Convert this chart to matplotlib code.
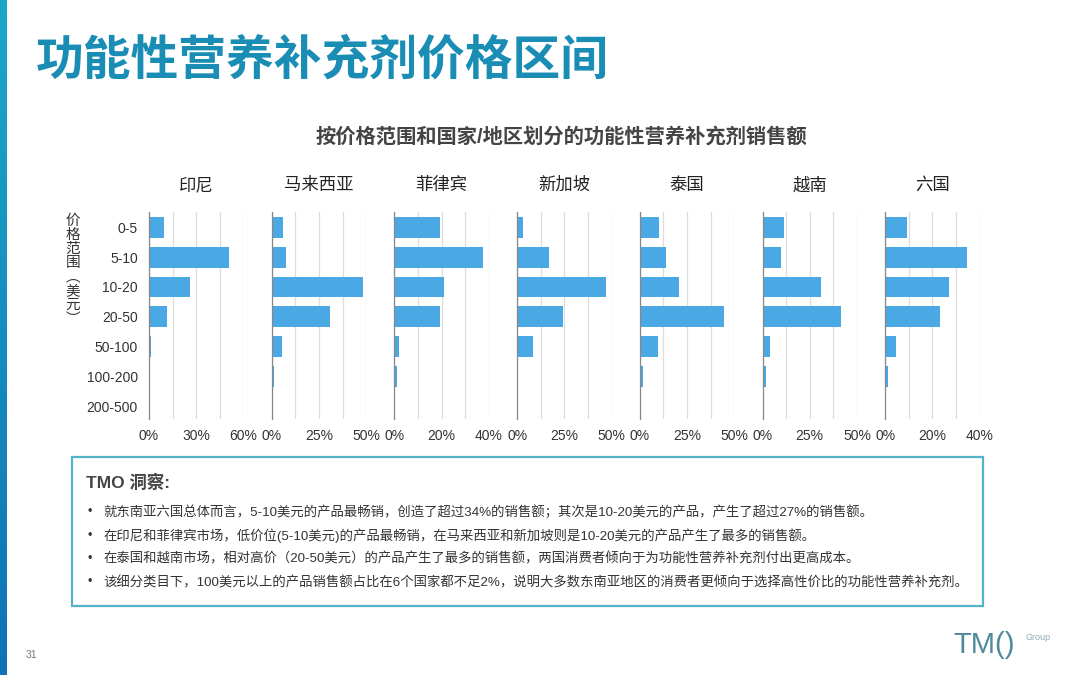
import matplotlib.pyplot as plt
import numpy as np
from matplotlib.patches import Rectangle

plt.rcParams['font.family'] = ['Liberation Sans', 'Noto Sans CJK SC', 'DejaVu Sans']

# data (share of sales, %)
price_ranges = ['0-5', '5-10', '10-20', '20-50', '50-100', '100-200', '200-500']
countries = ['印尼', '马来西亚', '菲律宾', '新加坡', '泰国', '越南', '六国']
indonesia = [9.3, 50.5, 26.2, 11.6, 1.0, 0.2, 0.0]
malaysia = [5.8, 7.4, 48.2, 31.0, 5.3, 1.0, 0.0]
philippines = [19.1, 37.4, 21.0, 19.4, 1.8, 1.0, 0.0]
singapore = [3.0, 17.1, 46.8, 24.3, 8.3, 0.2, 0.0]
thailand = [9.9, 13.6, 21.0, 44.5, 9.5, 1.6, 0.0]
vietnam = [11.6, 9.7, 31.0, 41.5, 4.0, 1.9, 0.0]
six_countries = [9.1, 34.6, 27.0, 23.0, 4.5, 1.1, 0.0]
series = [indonesia, malaysia, philippines, singapore, thailand, vietnam, six_countries]
axis_max = [60, 50, 40, 50, 50, 50, 40]

notes_title = 'TMO 洞察:'
notes = [
    '就东南亚六国总体而言，5-10美元的产品最畅销，创造了超过34%的销售额；其次是10-20美元的产品，产生了超过27%的销售额。',
    '在印尼和菲律宾市场，低价位(5-10美元)的产品最畅销，在马来西亚和新加坡则是10-20美元的产品产生了最多的销售额。',
    '在泰国和越南市场，相对高价（20-50美元）的产品产生了最多的销售额，两国消费者倾向于为功能性营养补充剂付出更高成本。',
    '该细分类目下，100美元以上的产品销售额占比在6个国家都不足2%，说明大多数东南亚地区的消费者更倾向于选择高性价比的功能性营养补充剂。',
]

W, H = 1080, 675
fig = plt.figure(figsize=(W / 100, H / 100), dpi=100)
fig.patch.set_facecolor('white')

def fx(px):
    return px / W

def fy(py):
    return 1 - py / H

# left accent strip
strip = fig.add_axes([0, 0, fx(7), 1])
strip.imshow(np.linspace(0, 1, 256).reshape(-1, 1), aspect='auto',
             cmap=plt.matplotlib.colors.LinearSegmentedColormap.from_list('s', ['#1ba7c8', '#0f72b6']))
strip.axis('off')

fig.text(fx(36), fy(62), '功能性营养补充剂价格区间', fontsize=34.4, fontweight='bold',
         color='#1a8db5', va='center', ha='left')
fig.text(fx(561), fy(137), '按价格范围和国家/地区划分的功能性营养补充剂销售额', fontsize=14.6,
         fontweight='bold', color='#444444', va='center', ha='center')

bar_color = '#4aa8e5'
y = np.arange(len(price_ranges))
left0, step, width = 149, 122.7, 94.5
top, bottom = 211.7, 419

for i, (name, vals, xmax) in enumerate(zip(countries, series, axis_max)):
    left = left0 + i * step
    ax = fig.add_axes([fx(left), fy(bottom), fx(width), fy(top) - fy(bottom)])
    ax.barh(y, vals, height=0.7, color=bar_color, zorder=3)
    ax.set_xlim(0, xmax)
    ax.set_ylim(6.42, -0.52)
    ax.set_xticks([0, xmax / 2, xmax])
    ax.set_xticklabels([f'{int(t)}%' for t in [0, xmax / 2, xmax]])
    ax.set_xticks([xmax / 4, 3 * xmax / 4], minor=True)
    ax.grid(axis='x', which='both', color='#dddddd', linewidth=0.9, zorder=0)
    ax.tick_params(axis='x', which='both', length=0, labelsize=10, colors='#333333', pad=7)
    for s in ['top', 'right', 'bottom']:
        ax.spines[s].set_visible(False)
    ax.spines['left'].set_color('#888888')
    ax.spines['left'].set_linewidth(0.9)
    ax.spines['left'].set_zorder(4)
    ax.set_yticks(y)
    if i == 0:
        ax.set_yticklabels(price_ranges)
        ax.tick_params(axis='y', length=0, labelsize=10, colors='#333333', pad=8)
    else:
        ax.set_yticklabels([])
        ax.tick_params(axis='y', length=0)
    ax.set_facecolor('none')
    fig.text(fx(left + width / 2), fy(185), name, fontsize=12.5, color='#222222',
             ha='center', va='center')

fig.text(fx(73), fy(270), '价\n格\n范\n围\n︵\n美\n元\n︶', fontsize=10.5, color='#333333',
         ha='center', va='center', linespacing=1.0)

# insight box
box = Rectangle((fx(72), fy(606)), fx(983) - fx(72), fy(457) - fy(606), transform=fig.transFigure,
                facecolor='white', edgecolor='#52b4c6', linewidth=1.6)
fig.patches.append(box)
fig.text(fx(86), fy(482), notes_title, fontsize=12.5, fontweight='bold', color='#444444',
         ha='left', va='center')
for k, line in enumerate(notes):
    yy = 512 + k * 23.5
    fig.text(fx(88), fy(yy), '•', fontsize=9, color='#333333', ha='left', va='center')
    fig.text(fx(103), fy(yy), line, fontsize=9.6, color='#333333', ha='left', va='center')

fig.text(fx(26), fy(655), '31', fontsize=7.5, color='#777777', ha='left', va='center')
fig.text(fx(953), fy(645), 'TM()', fontsize=21, color='#4f8a9c', ha='left', va='center')
fig.text(fx(1025), fy(637), 'Group', fontsize=6.5, color='#8fa9b3', ha='left', va='center')

fig.savefig('out.png', dpi=100)
